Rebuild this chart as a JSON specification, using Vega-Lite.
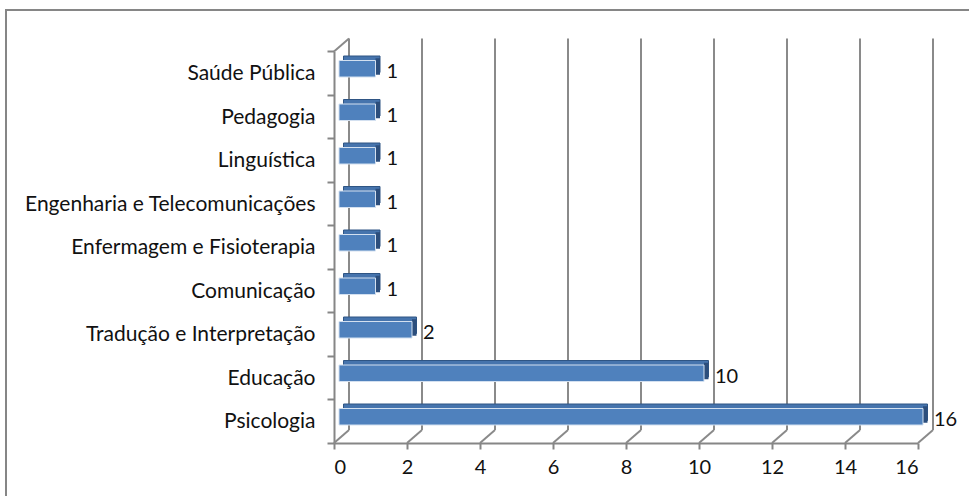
{
  "$schema": "https://vega.github.io/schema/vega-lite/v6.json",
  "autosize": {"type": "none"},
  "padding": {"left": 6, "top": 10, "right": -20, "bottom": -20},
  "width": 983,
  "height": 506,
  "background": "white",
  "config": {
    "view": {"stroke": "#868686", "strokeWidth": 2},
    "font": "Lato",
    "text": {"font": "Lato"}
  },
  "datasets": {
    "areas": [
      {"area": "Saúde Pública", "n": 1},
      {"area": "Pedagogia", "n": 1},
      {"area": "Linguística", "n": 1},
      {"area": "Engenharia e Telecomunicações", "n": 1},
      {"area": "Enfermagem e Fisioterapia", "n": 1},
      {"area": "Comunicação", "n": 1},
      {"area": "Tradução e Interpretação", "n": 2},
      {"area": "Educação", "n": 10},
      {"area": "Psicologia", "n": 16}
    ],
    "ticks": [
      {"v": 0}, {"v": 2}, {"v": 4}, {"v": 6}, {"v": 8},
      {"v": 10}, {"v": 12}, {"v": 14}, {"v": 16}
    ]
  },
  "layer": [
    {
      "description": "back wall gridlines",
      "data": {"name": "ticks"},
      "mark": {"type": "rule", "color": "#8a8a8a", "strokeWidth": 2, "xOffset": 15, "yOffset": -34.75, "y2Offset": 8.75},
      "encoding": {
        "x": {
          "field": "v", "type": "quantitative", "title": null,
          "scale": {"domain": [0, 16], "range": [328, 912], "nice": false},
          "axis": {
            "title": null, "values": [0, 2, 4, 6, 8, 10, 12, 14, 16], "format": "d", "offset": -73,
            "grid": false, "domainColor": "#868686", "domainWidth": 2,
            "tickColor": "#868686", "tickWidth": 2, "tickSize": 6,
            "labelFont": "Lato", "labelFontSize": 20, "labelColor": "#111111", "labelPadding": 8
          }
        },
        "y": {
          "datum": "Saúde Pública", "type": "nominal", "title": null,
          "scale": {
            "domain": ["Saúde Pública", "Pedagogia", "Linguística", "Engenharia e Telecomunicações", "Enfermagem e Fisioterapia", "Comunicação", "Tradução e Interpretação", "Educação", "Psicologia"],
            "range": [41.5, 433], "paddingInner": 0, "paddingOuter": 0
          },
          "axis": {
            "title": null, "offset": -328, "grid": false,
            "bandPosition": 1, "tickExtra": true, "labelOffset": 1,
            "domainColor": "#868686", "domainWidth": 2,
            "tickColor": "#868686", "tickWidth": 2, "tickSize": 7,
            "labelFont": "Lato", "labelFontSize": 21, "labelColor": "#111111", "labelPadding": 12, "labelLimit": 400
          }
        },
        "y2": {"datum": "Psicologia"}
      }
    },
    {
      "description": "floor edges running back from each tick",
      "data": {"name": "ticks"},
      "mark": {"type": "rule", "color": "#8a8a8a", "strokeWidth": 2, "x2Offset": 15, "yOffset": 21.75, "y2Offset": 8.75},
      "encoding": {
        "x": {"field": "v", "type": "quantitative", "title": null},
        "x2": {"field": "v"},
        "y": {"datum": "Psicologia", "type": "nominal", "title": null},
        "y2": {"datum": "Psicologia"}
      }
    },
    {
      "description": "top edge of the left wall",
      "data": {"name": "ticks"},
      "transform": [{"filter": "datum.v == 0"}],
      "mark": {"type": "rule", "color": "#8a8a8a", "strokeWidth": 2, "x2Offset": 15, "yOffset": -21.75, "y2Offset": -34.75},
      "encoding": {
        "x": {"field": "v", "type": "quantitative", "title": null},
        "x2": {"field": "v"},
        "y": {"datum": "Saúde Pública", "type": "nominal", "title": null},
        "y2": {"datum": "Saúde Pública"}
      }
    },
    {
      "description": "bar top face",
      "data": {"name": "areas"},
      "mark": {"type": "bar", "color": "#4674ad", "stroke": "#2f5584", "strokeWidth": 1, "size": 16.5, "xOffset": 9.5, "x2Offset": 9.5, "yOffset": -9},
      "encoding": {
        "x": {"field": "n", "type": "quantitative", "title": null},
        "y": {"field": "area", "type": "nominal", "title": null}
      }
    },
    {
      "description": "bar side face",
      "data": {"name": "areas"},
      "mark": {"type": "bar", "color": "#2c4e7c", "size": 16.5, "xOffset": 5, "x2Offset": 9.5, "yOffset": -6.75},
      "encoding": {
        "x": {"field": "n", "type": "quantitative", "title": null},
        "x2": {"field": "n"},
        "y": {"field": "area", "type": "nominal", "title": null}
      }
    },
    {
      "description": "bar front face",
      "data": {"name": "areas"},
      "mark": {"type": "bar", "color": "#4f81bd", "stroke": "#d3e0f0", "strokeWidth": 1, "size": 16.5, "xOffset": 5, "x2Offset": 5, "yOffset": -4.5},
      "encoding": {
        "x": {"field": "n", "type": "quantitative", "title": null},
        "y": {"field": "area", "type": "nominal", "title": null}
      }
    },
    {
      "description": "value labels",
      "data": {"name": "areas"},
      "mark": {"type": "text", "align": "left", "baseline": "middle", "dx": 16, "dy": -1, "fontSize": 20, "font": "Lato", "color": "#111111"},
      "encoding": {
        "x": {"field": "n", "type": "quantitative", "title": null},
        "y": {"field": "area", "type": "nominal", "title": null},
        "text": {"field": "n", "type": "quantitative"}
      }
    }
  ]
}
